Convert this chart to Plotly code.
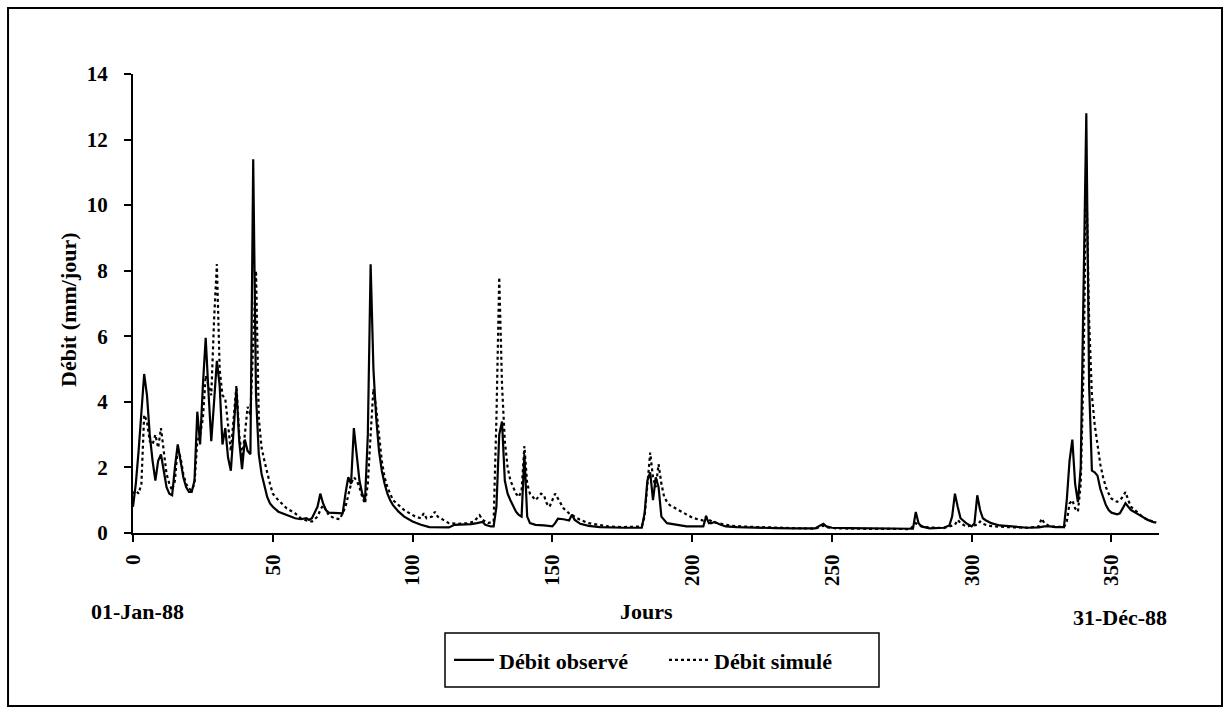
import plotly.graph_objects as go

# Observed discharge (day, mm/day)
obs_days = [0,1,2,3,4,5,6,7,8,9,10,11,12,13,14,15,16,17,18,19,20,21,22,23,24,25,26,27,28,29,30,31,32,33,34,35,36,37,38,39,40,41,42,43,44,45,46,47,48,49,50,52,55,58,60,62,63,64,66,67,68,69,70,73,75,76,77,78,79,80,81,82,83,84,85,86,87,88,89,90,91,92,93,95,97,100,103,106,110,113,115,118,121,123,125,126,128,129,130,131,132,133,134,135,136,137,138,139,140,141,142,144,147,150,151,152,154,156,157,158,160,163,167,172,176,182,183,184,185,186,187,188,189,191,194,198,202,204,205,206,207,208,210,212,216,222,230,236,240,244,246,247,248,250,256,264,272,279,280,281,282,285,290,292,293,294,295,296,298,300,301,302,303,304,305,307,310,315,320,324,326,328,330,333,334,335,336,337,338,339,340,341,342,343,344,345,346,347,348,349,350,352,353,354,355,356,357,359,361,363,365,366]
obs_vals = [0.8,1.5,2.5,3.8,4.85,4.2,3.0,2.2,1.6,2.2,2.4,1.9,1.4,1.2,1.15,2.0,2.7,2.2,1.7,1.4,1.25,1.25,1.6,3.7,2.7,4.5,5.95,4.3,2.8,4.0,5.25,4.5,2.7,3.2,2.3,1.9,3.2,4.4,2.8,1.95,2.85,2.5,2.4,11.4,4.2,2.4,1.8,1.4,1.1,0.9,0.8,0.65,0.55,0.45,0.42,0.45,0.4,0.45,0.8,1.2,0.9,0.7,0.62,0.6,0.6,1.2,1.7,1.5,3.2,2.4,1.6,1.2,1.0,3.0,8.2,5.0,3.5,2.5,1.9,1.5,1.2,1.0,0.85,0.65,0.5,0.35,0.25,0.18,0.17,0.17,0.25,0.26,0.27,0.3,0.34,0.25,0.2,0.2,0.8,3.0,3.4,1.6,1.2,1.0,0.8,0.65,0.55,0.5,2.4,0.5,0.3,0.25,0.23,0.2,0.3,0.44,0.42,0.38,0.56,0.4,0.28,0.22,0.18,0.16,0.16,0.16,0.6,1.6,1.85,1.0,1.7,1.4,0.5,0.3,0.25,0.2,0.2,0.2,0.5,0.3,0.3,0.34,0.26,0.2,0.18,0.16,0.15,0.14,0.14,0.14,0.24,0.28,0.2,0.16,0.15,0.14,0.13,0.13,0.64,0.3,0.2,0.14,0.16,0.23,0.5,1.2,0.8,0.45,0.3,0.2,0.3,1.15,0.7,0.45,0.39,0.3,0.23,0.2,0.16,0.17,0.2,0.2,0.18,0.18,0.99,2.2,2.85,1.5,0.94,2.0,8.0,12.8,4.5,1.9,1.85,1.75,1.35,1.1,0.85,0.7,0.62,0.57,0.6,0.75,0.91,0.8,0.7,0.6,0.5,0.4,0.33,0.32]

# Simulated discharge (day, mm/day)
sim_days = [0,1,2,3,4,5,6,7,8,9,10,11,12,13,14,15,16,17,18,19,20,21,22,23,24,25,26,27,28,29,30,31,32,33,34,35,36,37,38,39,40,41,42,43,44,45,46,47,48,49,50,52,55,58,60,62,64,66,67,68,69,70,72,74,76,77,78,79,80,81,82,83,84,85,86,87,88,89,90,91,92,93,95,97,99,101,103,104,105,107,108,109,111,113,116,120,122,124,125,127,129,130,131,132,133,134,135,136,137,138,139,140,141,142,143,144,145,146,147,148,149,150,151,152,153,154,156,158,160,163,166,170,175,182,183,184,185,186,187,188,189,190,191,192,194,196,198,200,202,204,205,206,208,210,214,220,228,236,244,246,247,248,252,260,270,278,280,281,283,290,294,295,296,298,302,303,304,306,312,320,324,325,326,328,333,334,335,336,337,338,339,340,341,342,343,344,345,346,347,348,349,350,352,353,354,355,356,357,359,361,363,365,366]
sim_vals = [1.2,1.3,1.2,1.5,3.6,3.4,2.8,2.7,3.0,2.6,3.2,2.5,1.8,1.5,1.3,1.6,2.6,2.3,1.8,1.5,1.35,1.3,1.5,2.8,3.0,3.5,4.8,4.5,4.2,6.5,8.2,5.0,4.2,4.1,3.2,2.5,3.5,4.5,3.0,2.3,3.0,3.85,3.6,6.0,8.0,3.5,2.6,2.2,1.8,1.5,1.2,1.0,0.75,0.6,0.45,0.38,0.35,0.5,0.7,0.85,0.7,0.55,0.45,0.42,0.8,1.2,1.5,1.7,1.6,1.4,1.1,0.9,1.5,3.0,4.4,3.8,2.9,2.2,1.7,1.4,1.2,1.0,0.85,0.7,0.6,0.5,0.45,0.6,0.45,0.5,0.65,0.5,0.4,0.3,0.28,0.3,0.35,0.54,0.4,0.3,0.35,3.5,7.8,4.5,2.8,2.0,1.6,1.4,1.2,1.1,1.3,2.65,1.5,1.2,1.1,1.0,1.1,1.2,1.15,0.9,0.8,1.0,1.2,1.05,0.9,0.75,0.6,0.5,0.4,0.3,0.25,0.2,0.18,0.2,0.5,1.4,2.45,1.7,1.4,2.1,1.5,1.1,0.95,0.85,0.75,0.65,0.55,0.47,0.42,0.38,0.5,0.4,0.32,0.28,0.22,0.19,0.17,0.15,0.13,0.2,0.22,0.17,0.14,0.13,0.12,0.12,0.3,0.25,0.18,0.15,0.25,0.4,0.3,0.2,0.25,0.35,0.28,0.22,0.18,0.16,0.2,0.44,0.3,0.2,0.18,0.35,0.9,1.0,0.75,0.65,1.5,5.0,10.8,6.5,4.2,3.3,2.7,2.1,1.7,1.4,1.2,1.05,0.95,1.0,1.1,1.25,1.0,0.8,0.65,0.5,0.4,0.34,0.32]

x_ticks = [0, 50, 100, 150, 200, 250, 300, 350]
y_ticks = [0, 2, 4, 6, 8, 10, 12, 14]

FONT = "Liberation Serif"

fig = go.Figure()
fig.add_trace(go.Scatter(x=obs_days, y=obs_vals, mode="lines", name="Débit observé",
                         line=dict(color="black", width=2.2)))
fig.add_trace(go.Scatter(x=sim_days, y=sim_vals, mode="lines", name="Débit simulé",
                         line=dict(color="black", width=2.2, dash="dot")))

fig.update_layout(
    width=1228, height=712,
    margin=dict(l=133, r=69, t=74, b=179),
    paper_bgcolor="white", plot_bgcolor="white",
    font=dict(family=FONT, color="black", size=20, weight="bold"),
    showlegend=True,
    legend=dict(orientation="h", x=0.308, xanchor="left", y=-0.277, yanchor="middle",
                font=dict(family=FONT, size=22, color="black", weight="bold"),
                bgcolor="rgba(0,0,0,0)", borderwidth=0, itemwidth=40,
                entrywidth=160),
    xaxis=dict(range=[0, 367], tickmode="array", tickvals=x_ticks,
               ticktext=[str(v) for v in x_ticks], tickangle=-90,
               showgrid=False, zeroline=False, showline=True, linecolor="black", linewidth=2,
               ticks="outside", ticklen=7, tickwidth=2, tickcolor="black",
               ticklabelstandoff=4,
               tickfont=dict(family=FONT, size=21, color="black", weight="bold")),
    yaxis=dict(range=[0, 14], tickmode="array", tickvals=y_ticks,
               ticktext=[str(v) for v in y_ticks],
               showgrid=False, zeroline=False, showline=True, linecolor="black", linewidth=2,
               ticks="outside", ticklen=7, tickwidth=2, tickcolor="black",
               ticklabelstandoff=12,
               tickfont=dict(family=FONT, size=21, color="black", weight="bold")),
)

# outer frame and legend box
fig.add_shape(type="rect", xref="paper", yref="paper", x0=-0.1218, x1=1.0614, y0=-0.377, y1=1.1438,
              line=dict(color="black", width=2), fillcolor="rgba(0,0,0,0)", layer="below")
fig.add_shape(type="rect", xref="paper", yref="paper", x0=0.3041, x1=0.7271, y0=-0.3355, y1=-0.2179,
              line=dict(color="black", width=1.5), fillcolor="rgba(0,0,0,0)")

fig.add_annotation(text="<b>Débit (mm/jour)</b>", xref="paper", yref="paper", x=-0.0634, y=0.488,
                   xanchor="center", yanchor="middle",
                   textangle=-90, showarrow=False, font=dict(family=FONT, size=22, color="black"))
fig.add_annotation(text="<b>Jours</b>", xref="paper", yref="paper", x=0.5, y=-0.17,
                   xanchor="center", yanchor="middle",
                   showarrow=False, font=dict(family=FONT, size=22, color="black"))
fig.add_annotation(text="<b>01-Jan-88</b>", xref="paper", yref="paper", x=0.004, y=-0.17,
                   xanchor="center", yanchor="middle",
                   showarrow=False, font=dict(family=FONT, size=22, color="black"))
fig.add_annotation(text="<b>31-Déc-88</b>", xref="paper", yref="paper", x=0.962, y=-0.185,
                   xanchor="center", yanchor="middle",
                   showarrow=False, font=dict(family=FONT, size=22, color="black"))

fig.write_html("out.html")
